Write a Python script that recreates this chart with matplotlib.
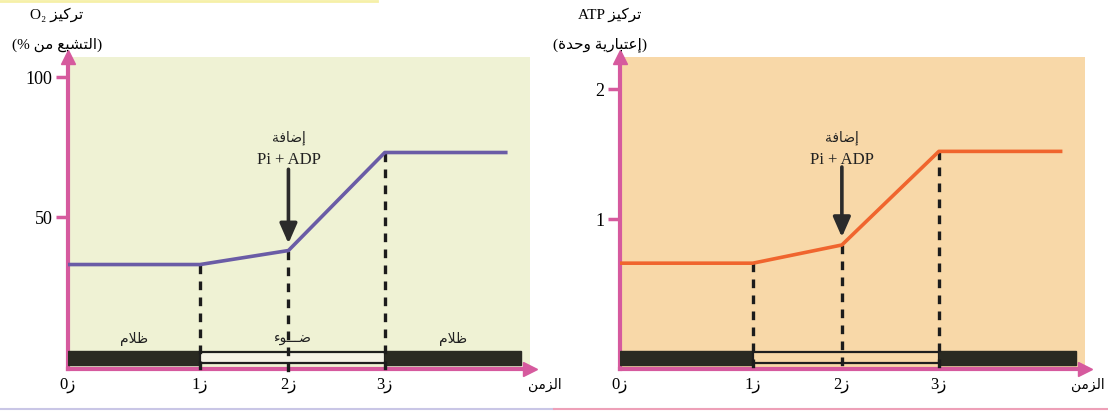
import matplotlib.pyplot as plt
from matplotlib.lines import Line2D
from matplotlib.patches import Rectangle

# Arabic words are kept pre-shaped (presentation forms) in visual order,
# because matplotlib places glyphs left to right without joining them.
TARKIZ = '\uFEB0\uFEF4\uFEDB\uFEAE\uFE97'                        # تركيز
MIN = '\uFEE6\uFEE3'                                             # من
TASHABBU = '\uFECA\uFE92\uFEB8\uFE98\uFEDF\uFE8D'                # التشبع
WAHDA = '\uFE93\uFEAA\uFEA3\uFEED'                               # وحدة
ITIBARIYA = '\uFE94\uFEF3\uFEAD\uFE8E\uFE92\uFE98\uFECB\uFE87'   # إعتبارية
ZAMAN = '\uFEE6\uFEE3\uFEB0\uFEDF\uFE8D'                         # الزمن
IDAFA = '\uFE94\uFED3\uFE8E\uFEBF\uFE87'                         # إضافة
ZALAM = '\uFEE1\uFEFC\uFEC7'                                     # ظلام
DAW = '\uFE80\uFEEE\u0640\u0640\u0640\uFEBF'                     # ضـوء
ZAY = '\uFEAF'                                                   # ز

# Time points: start, z1, z2 (Pi + ADP added), z3, end of recording
times = [0.0, 1.0, 1.67, 2.4, 3.33]
time_labels = ['0' + ZAY, '1' + ZAY, '2' + ZAY, '3' + ZAY]
o2_values = [33, 33, 38, 73, 73]             # % of saturation
atp_values = [0.66, 0.66, 0.80, 1.52, 1.52]  # arbitrary units

# Light regime along the time axis: dark / light / dark
period_edges = [0.0, 1.0, 2.4, 3.43]
period_kinds = ['dark', 'light', 'dark']
period_names = [ZALAM, DAW, ZALAM]

PINK = '#d65a9e'
DARK = '#2a2a22'

plt.rcParams['font.family'] = ['Liberation Serif', 'DejaVu Sans']

fig = plt.figure(figsize=(11.08, 4.14), dpi=100)
W, H = 1108.0, 414.0


def draw_panel(ax, values, ylim, yticks, line_color, bg_color, light_fill,
               below, arrow_tail, arrow_head, text_y, show_names):
    ax.set_facecolor(bg_color)
    ax.set_xlim(0, 3.5)
    ax.set_ylim(*ylim)

    # Axes styled as pink arrows
    for side in ('top', 'right'):
        ax.spines[side].set_visible(False)
    for side in ('left', 'bottom'):
        ax.spines[side].set_color(PINK)
        ax.spines[side].set_linewidth(3)
    ax.plot(0, 1, marker='^', color=PINK, ms=10, transform=ax.transAxes,
            clip_on=False, zorder=5)
    ax.plot(1, 0, marker='>', color=PINK, ms=10, transform=ax.transAxes,
            clip_on=False, zorder=5)

    ax.set_yticks(yticks)
    ax.tick_params(axis='y', direction='out', length=9, width=2.5,
                   color=PINK, labelsize=13, pad=2)
    ax.set_xticks(times[:4])
    ax.set_xticklabels(time_labels)
    ax.tick_params(axis='x', length=0, labelsize=12, pad=5)

    # Light / dark bar along the bottom
    trans = ax.get_xaxis_transform()
    for x0, x1, kind in zip(period_edges[:-1], period_edges[1:], period_kinds):
        if kind == 'dark':
            ax.add_patch(Rectangle((x0, 0.013), x1 - x0, 0.045, transform=trans,
                                   facecolor=DARK, edgecolor=DARK, lw=1, zorder=3))
        else:
            ax.add_patch(Rectangle((x0, 0.018), x1 - x0, 0.036, transform=trans,
                                   facecolor=light_fill, edgecolor='#1e1e1e',
                                   lw=1.6, zorder=3))
    if show_names:
        for x0, x1, name in zip(period_edges[:-1], period_edges[1:], period_names):
            xc = (x0 + x1) / 2
            ax.text(xc, 0.1, name, transform=trans, ha='center', va='center',
                    fontsize=10, color='#222222')

    # Dashed drop lines at z1, z2, z3
    for t, v in zip(times[1:4], values[1:4]):
        ax.plot([t, t], [v, below], color='#1c1c1c', lw=2.4,
                ls=(0, (2.6, 2.2)), clip_on=False, zorder=4)

    ax.plot(times, values, color=line_color, lw=2.6, zorder=6,
            solid_capstyle='butt')

    # Pi + ADP addition at z2
    t2 = times[2]
    ax.annotate('', xy=(t2, arrow_head), xytext=(t2, arrow_tail),
                arrowprops=dict(arrowstyle='-|>,head_width=0.35,head_length=0.8',
                                lw=2.6, color='#2b2b2b', mutation_scale=15,
                                shrinkA=0, shrinkB=0), zorder=7)
    ax.text(t2, text_y[0], IDAFA, ha='center', va='center', fontsize=10,
            color='#222222')
    ax.text(t2, text_y[1], 'Pi + ADP', ha='center', va='center', fontsize=12,
            color='#222222')


ax_o2 = fig.add_axes([68 / W, 44 / H, 462 / W, 312 / H])
draw_panel(ax_o2, o2_values, (-4.3, 107.1), [50, 100], '#6a5ca6', '#eff2d4',
           '#f5f3e6', -6.2, 67, 40.5, (78.6, 70.7), True)

ax_atp = fig.add_axes([620 / W, 44 / H, 465 / W, 312 / H])
draw_panel(ax_atp, atp_values, (-0.154, 2.246), [1, 2], '#f0652e', '#f8d8a8',
           '#f8d8a8', -0.18, 1.40, 0.86, (1.63, 1.46), False)

# Axis titles
fig.text(57 / W, 1 - 15 / H, 'O\u2082 ' + TARKIZ, ha='center', va='center',
         fontsize=11)
fig.text(57 / W, 1 - 45 / H, '(% ' + MIN + ' ' + TASHABBU + ')', ha='center',
         va='center', fontsize=11)
fig.text(610 / W, 1 - 15 / H, 'ATP ' + TARKIZ, ha='center', va='center',
         fontsize=11)
fig.text(600 / W, 1 - 45 / H, '(' + WAHDA + ' ' + ITIBARIYA + ')', ha='center',
         va='center', fontsize=11)

fig.text(545 / W, 1 - 385 / H, ZAMAN, ha='center', va='center', fontsize=10)
fig.text(1088 / W, 1 - 385 / H, ZAMAN, ha='center', va='center', fontsize=10)

# Thin coloured rules along the top and bottom edges
fig.add_artist(Line2D([0.0, 0.34], [1 - 1.5 / H, 1 - 1.5 / H], color='#f6f0a8', lw=2))
fig.add_artist(Line2D([0.0, 0.5], [4 / H, 4 / H], color='#c9c6e6', lw=1.5))
fig.add_artist(Line2D([0.5, 1.0], [4 / H, 4 / H], color='#eea0b8', lw=1.5))

fig.savefig('out.png', dpi=100)
